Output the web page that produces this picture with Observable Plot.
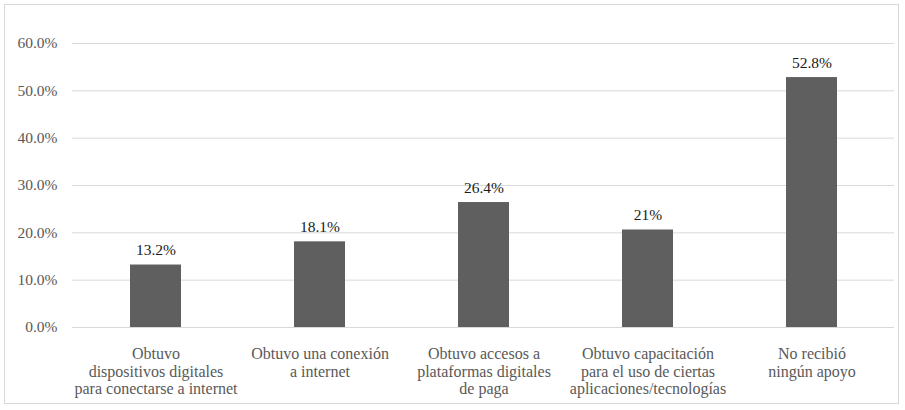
<!DOCTYPE html>
<html>
<head>
<meta charset="utf-8">
<script src="https://cdn.jsdelivr.net/npm/d3@7"></script>
<script src="https://cdn.jsdelivr.net/npm/@observablehq/plot@0.6"></script>
<style>
  body { margin: 0; background: #fff; font-family: "Liberation Serif"; }
  #wrap { position: relative; width: 905px; height: 410px; }
  #frame { position: absolute; left: 4px; top: 4px; width: 895px; height: 400px; border: 1px solid #d9d9d9; box-sizing: border-box; pointer-events: none; }
  #chart { position: absolute; left: 0; top: 0; }
</style>
</head>
<body>
<div id="wrap"><div id="frame"></div><div id="chart"></div></div>
<script>
const categories = [
  "Obtuvo\ndispositivos digitales\npara conectarse a internet",
  "Obtuvo una conexión\na internet",
  "Obtuvo accesos a\nplataformas digitales\nde paga",
  "Obtuvo capacitación\npara el uso de ciertas\naplicaciones/tecnologías",
  "No recibió\nningún apoyo"
];
const values = [13.2, 18.1, 26.4, 20.6, 52.8];
const valueLabels = ["13.2%", "18.1%", "26.4%", "21%", "52.8%"];
const yTicks = [0, 10, 20, 30, 40, 50, 60];

const data = categories.map((c, i) => ({cat: c, value: values[i], label: valueLabels[i]}));
const font = "Liberation Serif";

const chart = Plot.plot({
  width: 905,
  height: 410,
  marginLeft: 72,
  marginRight: 11,
  marginTop: 43,
  marginBottom: 83,
  style: {fontSize: "15px", background: "transparent"},
  x: {domain: categories, paddingInner: 0.69, paddingOuter: 0.345, label: null},
  y: {domain: [0, 60], label: null},
  marks: [
    Plot.gridY(yTicks, {stroke: "#d9d9d9", strokeOpacity: 1, strokeWidth: 1}),
    Plot.barY(data, {x: "cat", y: "value", fill: "#5f5f5f"}),
    Plot.text(data, {x: "cat", y: "value", text: "label", dy: -10, lineAnchor: "bottom", fill: "#1a1a1a", fontSize: 15.5, fontFamily: font}),
    Plot.axisY(yTicks, {tickSize: 0, tickPadding: 15, tickFormat: d => d.toFixed(1) + "%", fill: "#595959", fontSize: 15.5, fontFamily: font, label: null}),
    Plot.axisX({tickSize: 0, tickPadding: 19, lineHeight: 1.1, fill: "#595959", fontSize: 16, fontFamily: font, label: null})
  ]
});
chart.setAttribute("font-family", font);
chart.style.fontFamily = font;
chart.querySelectorAll("g, text, tspan").forEach(el => {
  el.setAttribute("font-family", font);
  el.style.fontFamily = font;
});
document.getElementById("chart").appendChild(chart);
</script>
</body>
</html>
